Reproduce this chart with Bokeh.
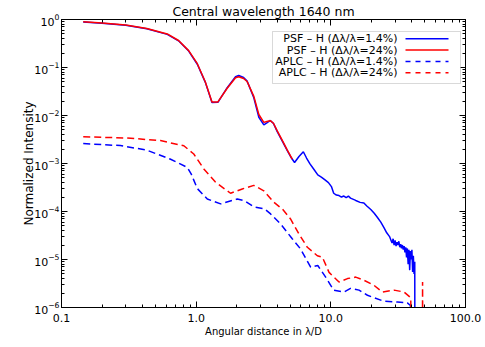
import numpy as np
from bokeh.plotting import figure
from bokeh.models import (LogAxis, FixedTicker, NumeralTickFormatter, LogTickFormatter,
                          CustomJSTickFormatter, Label, BoxAnnotation, Arrow)
from bokeh.embed import file_html
from bokeh.resources import INLINE

# ---------------- data ----------------
title_text = "Central wavelength 1640 nm"
x_label = "Angular distance in λ/D"
y_label = "Normalized Intensity"
x_ticks = [0.1, 1.0, 10.0, 100.0]
y_ticks = [1e-6, 1e-5, 1e-4, 1e-3, 1e-2, 1e-1, 1.0]
legend_labels = ["PSF – H (Δλ/λ=1.4%)", "PSF – H (Δλ/λ=24%)",
                 "APLC – H (Δλ/λ=1.4%)", "APLC – H (Δλ/λ=24%)"]

psf14_x = [0.145, 0.2, 0.3, 0.43, 0.61, 0.74, 0.88, 1.02, 1.17, 1.31, 1.45, 1.70, 1.96, 2.07,
           2.25, 2.39, 2.68, 2.92, 3.18, 3.35, 3.55, 3.75, 4.0, 4.4, 4.75, 5.1, 5.38, 5.8, 6.25,
           6.6, 7.0, 7.5, 8.0, 8.5, 9.0, 9.6, 10.1, 10.5, 11.0, 11.5, 12.0, 12.5, 13.0, 13.5,
           14.0, 15.3, 16.5, 17.6, 18.5, 19.8, 21.0, 22.2, 23.5, 24.8, 26.0, 27.3, 28.0, 28.5,
           29.0, 29.5, 30.0, 30.5, 31.0, 31.5, 32.0, 32.5, 33.0, 33.5, 34.0, 34.5, 35.0, 35.5,
           36.0, 36.5, 37.0, 37.5, 38.0, 38.5, 39.0, 39.5, 40.0, 40.5, 41.0, 41.5, 42.0, 42.1]
psf14_y = [0.89, 0.84, 0.76, 0.64, 0.49, 0.36, 0.22, 0.117, 0.049, 0.0186, 0.0188, 0.038, 0.064,
           0.068, 0.062, 0.052, 0.0235, 0.0092, 0.0064, 0.0070, 0.0079, 0.0068, 0.0046, 0.0028,
           0.00185, 0.0013, 0.00105, 0.0014, 0.00176, 0.0013, 0.00098, 0.00075, 0.00058, 0.00052,
           0.00046, 0.00040, 0.00033, 0.00024, 0.00022, 0.000215, 0.00020, 0.00021, 0.000195,
           0.00021, 0.00019, 0.00017, 0.000155, 0.00015, 0.00013, 0.00011, 9.2e-5, 7.5e-5, 6e-5,
           4.6e-5, 3.6e-5, 3.0e-5, 2.5e-5, 2.2e-5, 2.7e-5, 2.0e-5, 2.5e-5, 1.9e-5, 2.3e-5, 2.0e-5,
           2.4e-5, 1.8e-5, 2.1e-5, 1.7e-5, 2.0e-5, 1.6e-5, 1.9e-5, 1.4e-5, 1.8e-5, 1.1e-5, 1.7e-5,
           8e-6, 1.6e-5, 6e-6, 1.5e-5, 1.0e-5, 1.6e-5, 5.5e-6, 1.2e-5, 5e-6, 9e-6, 1e-8]

psf24_x = [0.145, 0.2, 0.3, 0.43, 0.61, 0.74, 0.88, 1.02, 1.17, 1.31, 1.45, 1.70, 1.96, 2.07,
           2.25, 2.39, 2.68, 2.92, 3.18, 3.35, 3.55, 3.75, 4.0, 4.4, 4.75, 5.17]
psf24_y = [0.90, 0.85, 0.77, 0.65, 0.50, 0.365, 0.225, 0.12, 0.05, 0.0192, 0.0192, 0.037, 0.061,
           0.064, 0.059, 0.051, 0.025, 0.0105, 0.0072, 0.0075, 0.0078, 0.0069, 0.0048, 0.0029,
           0.0019, 0.00124]

aplc14_x = [0.145, 0.274, 0.43, 0.64, 0.86, 0.92, 0.96, 1.02, 1.21, 1.52, 2.02, 2.3, 2.68, 3.22,
            3.57, 4.24, 5.17, 5.96, 7.08, 8.0, 9.15, 10.5, 12.5, 14.0, 16.2, 18.7, 20.9, 24.8,
            31.2, 37.0, 39.0, 40.0]
aplc14_y = [0.0026, 0.00236, 0.0019, 0.00124, 0.00083, 0.0006, 0.00045, 0.0003, 0.000182,
            0.000144, 0.000182, 0.000166, 0.000125, 0.000113, 8.9e-5, 5.5e-5, 2.7e-5, 1.66e-5,
            6.9e-6, 7.5e-6, 4.3e-6, 2.3e-6, 2.1e-6, 2.5e-6, 2.3e-6, 1.8e-6, 1.6e-6, 1.35e-6,
            1.3e-6, 1.25e-6, 1.1e-6, 1e-8]

aplc24_x = [0.145, 0.307, 0.543, 0.81, 0.96, 1.14, 1.39, 1.80, 2.2, 2.68, 3.18, 3.78, 4.36, 5.02,
            5.8, 6.69, 7.94, 8.65, 9.7, 11.5, 13.3, 15.3, 17.6, 20.9, 24.1, 29.5, 35.0, 39.2,
            40.5, 47.8, 48.0, 48.2]
aplc24_y = [0.0036, 0.0034, 0.0030, 0.00234, 0.00158, 0.00077, 0.00041, 0.00024, 0.000295,
            0.00035, 0.00027, 0.000155, 0.000113, 7.0e-5, 3.4e-5, 1.8e-5, 1.2e-5, 1.12e-5, 5.4e-6,
            3.4e-6, 4.0e-6, 4.3e-6, 3.7e-6, 2.9e-6, 2.1e-6, 2.3e-6, 2.1e-6, 1.6e-6, 1e-8, 1e-8,
            3.4e-6, 1e-8]

# ---------------- figure ----------------
FONT = "DejaVu Sans"
p = figure(width=485, height=347, x_axis_type="log", y_axis_type="log",
           x_range=(0.1, 100), y_range=(1e-6, 1), title=title_text,
           output_backend="svg", toolbar_location=None,
           min_border_left=61, min_border_right=20, min_border_top=19, min_border_bottom=40)
p.title.align = "center"
p.title.text_font = FONT
p.title.text_font_size = "12.5px"
p.title.text_font_style = "normal"
p.title.text_color = "black"
p.title.standoff = 2
p.title.offset = 0
p.grid.visible = False
p.outline_line_color = "black"
p.background_fill_color = "white"
p.border_fill_color = "white"

x_minor = [m * d for d in [0.1, 1.0, 10.0] for m in range(2, 10)]
y_minor = [m * d for d in y_ticks[:-1] for m in range(2, 10)]
xt = FixedTicker(ticks=x_ticks, minor_ticks=x_minor)
yt = FixedTicker(ticks=y_ticks, minor_ticks=y_minor)


def style(ax):
    ax.axis_line_color = "black"
    ax.major_tick_line_color = "black"
    ax.minor_tick_line_color = "black"
    ax.major_tick_in = 6
    ax.major_tick_out = 0
    ax.minor_tick_in = 3
    ax.minor_tick_out = 0
    ax.major_label_text_font = FONT
    ax.major_label_text_color = "black"
    ax.axis_label_text_font = FONT
    ax.axis_label_text_font_style = "normal"
    ax.axis_label_text_color = "black"


xa = p.xaxis[0]
xa.ticker = xt
xa.formatter = NumeralTickFormatter(format="0.0")
style(xa)
xa.major_label_text_font_size = "11px"
xa.major_label_standoff = 6
xa.axis_label = x_label
xa.axis_label_text_font_size = "10px"
xa.axis_label_standoff = 1

ya = p.yaxis[0]
ya.ticker = yt
ya.formatter = LogTickFormatter()
style(ya)
ya.major_label_text_font_size = "11px"
ya.major_label_standoff = 2
ya.axis_label = y_label
ya.axis_label_text_font_size = "12px"
ya.axis_label_standoff = -5

blank = CustomJSTickFormatter(code="return ''")
top = LogAxis(ticker=xt, formatter=blank)
style(top)
top.major_label_text_font_size = "1px"
top.major_label_standoff = 0
p.add_layout(top, "above")
right = LogAxis(ticker=yt, formatter=blank)
style(right)
right.major_label_text_font_size = "1px"
right.major_label_standoff = 0
p.add_layout(right, "right")

# ---------------- curves ----------------
p.line(aplc14_x, aplc14_y, line_color="#0000ff", line_width=1.5, line_dash="7 4")
p.line(aplc24_x, aplc24_y, line_color="#ff0000", line_width=1.5, line_dash="7 4")
p.line(psf14_x, psf14_y, line_color="#0000ff", line_width=1.5)
p.line(psf24_x, psf24_y, line_color="#ff0000", line_width=1.5)

# ---------------- legend (text left, sample right) ----------------
p.add_layout(BoxAnnotation(left=211, right=399, top=276, bottom=224,
                           left_units="screen", right_units="screen",
                           top_units="screen", bottom_units="screen",
                           fill_color="white", fill_alpha=1.0,
                           line_color="#808080", line_width=1))
row_y = [268.7, 257.4, 246.1, 234.8]
colors = ["#0000ff", "#ff0000", "#0000ff", "#ff0000"]
dashes = ["solid", "solid", "5 5", "5 5"]
for lab, yy, c, d in zip(legend_labels, row_y, colors, dashes):
    p.add_layout(Label(text=lab, x=336, y=yy, x_units="screen", y_units="screen",
                       text_align="right", text_baseline="middle", text_font=FONT,
                       text_font_size="11px", text_color="black"))
    p.add_layout(Arrow(x_start=344, y_start=yy, x_end=387, y_end=yy,
                       start_units="screen", end_units="screen", start=None, end=None,
                       line_color=c, line_width=1.5, line_dash=d))

open("out.html", "w").write(file_html(p, INLINE))
